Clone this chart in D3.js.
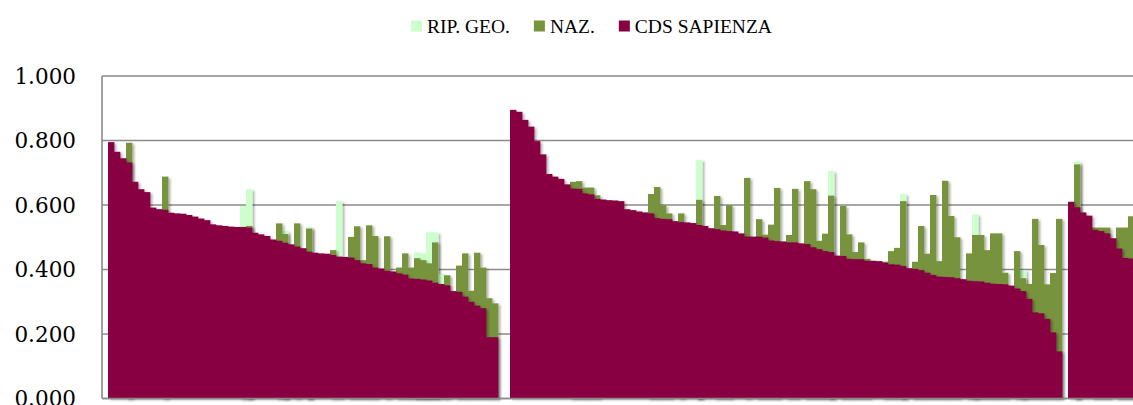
<!DOCTYPE html>
<html>
<head>
<meta charset="utf-8">
<title>CDS Sapienza</title>
<script src="https://cdn.jsdelivr.net/npm/d3@7"></script>
<style>
body {
	margin: 0;
	background-color: white;
}
.grid line {
	stroke: #8a8a8a;
	stroke-width: 1.6;
}
.axis-line {
	stroke: #8a8a8a;
	stroke-width: 1.6;
}
.tick-label {
	font-family: "DejaVu Serif";
	font-size: 21.5px;
	fill: #000;
}
.legend text {
	font-family: "Liberation Serif";
	font-size: 19.5px;
	fill: #000;
}
</style>
</head>
<body>
<div id="chart"></div>
<script>
// series order = drawing order (back to front)
const seriesNames = ["RIP. GEO.", "NAZ.", "CDS SAPIENZA"];
const seriesColors = ["#ccffcc", "#77933c", "#880042"];
const yTicks = [0, 0.2, 0.4, 0.6, 0.8, 1.0];

// blank categories in front of each group
const gapBefore = [1, 2, 1];

// group A
const cdsA = [0.795,0.765,0.745,0.732,0.672,0.649,0.640,0.592,0.587,0.585,
	0.576,0.574,0.573,0.569,0.564,0.558,0.553,0.540,0.537,0.535,
	0.533,0.532,0.532,0.530,0.514,0.509,0.504,0.493,0.489,0.483,
	0.478,0.471,0.466,0.455,0.452,0.450,0.449,0.445,0.440,0.439,
	0.437,0.429,0.419,0.417,0.406,0.403,0.396,0.394,0.388,0.384,
	0.372,0.371,0.369,0.366,0.359,0.355,0.351,0.333,0.331,0.316,
	0.300,0.288,0.280,0.190,0.190];
const nazA = [null,null,null,0.793,null,null,null,null,null,0.688,
	null,null,null,null,null,null,null,null,null,null,
	null,null,null,0.535,null,null,null,null,0.543,0.510,
	null,0.543,null,0.527,null,null,null,0.460,null,null,
	0.501,0.534,0.429,0.537,0.504,null,0.503,null,0.406,0.450,
	0.406,0.435,0.429,0.419,0.484,null,0.382,null,0.412,0.450,
	0.334,0.452,0.406,0.311,0.295];
const ripA = [null,null,null,null,null,null,null,null,null,null,
	null,null,null,null,null,null,null,null,null,null,
	null,null,0.597,0.649,null,null,null,null,null,0.520,
	null,null,null,0.531,null,null,null,null,0.612,null,
	null,null,null,null,null,null,null,null,null,null,
	null,0.453,0.450,0.515,0.515,0.386,null,null,null,null,
	null,null,null,null,null];

// group B
const cdsB = [0.895,0.889,0.864,0.843,0.798,0.757,0.696,0.688,0.681,0.664,
	0.651,0.650,0.636,0.633,0.619,0.617,0.615,0.614,0.612,0.587,
	0.584,0.580,0.577,0.574,0.559,0.557,0.556,0.550,0.547,0.546,
	0.544,0.538,0.535,0.528,0.525,0.521,0.519,0.518,0.512,0.502,
	0.502,0.502,0.499,0.490,0.488,0.487,0.484,0.484,0.481,0.479,
	0.469,0.463,0.457,0.454,0.443,0.442,0.433,0.432,0.432,0.427,
	0.427,0.426,0.421,0.416,0.415,0.411,0.404,0.402,0.398,0.390,
	0.383,0.378,0.377,0.376,0.373,0.370,0.365,0.364,0.363,0.359,
	0.356,0.355,0.354,0.350,0.341,0.333,0.309,0.267,0.264,0.247,
	0.205,0.146];
const nazB = [null,null,null,null,null,null,null,null,null,null,
	0.672,0.674,0.654,0.654,0.630,null,null,null,null,null,
	null,null,null,0.634,0.656,0.599,0.574,null,0.574,null,
	null,0.616,null,null,0.628,0.538,0.599,null,null,0.684,
	null,0.556,0.508,0.539,0.653,null,0.507,0.650,null,0.674,
	0.649,0.489,0.511,0.629,null,0.597,0.509,0.454,0.484,0.433,
	null,null,0.424,0.457,0.467,0.612,null,0.424,0.535,0.449,
	0.631,0.426,0.675,0.566,0.500,null,0.450,0.507,0.507,0.460,
	0.512,0.512,0.390,null,0.457,0.373,0.355,0.557,0.476,0.354,
	0.389,0.557];
const ripB = [null,null,null,null,null,null,null,null,null,null,
	null,null,null,null,null,null,null,null,null,null,
	null,null,null,null,null,null,null,null,null,null,
	null,0.740,null,null,null,null,null,null,null,null,
	null,null,null,null,null,null,null,null,null,null,
	null,null,null,0.705,null,null,null,null,null,null,
	null,null,null,null,null,0.634,null,null,null,null,
	null,null,null,null,null,null,null,0.571,null,null,
	null,null,null,null,null,0.398,null,null,null,null,
	null,null];

// group C (cut by the right edge)
const cdsC = [0.610,0.593,0.577,0.567,0.523,0.519,0.512,0.497,0.465,0.436,0.434];
const nazC = [null,0.726,null,null,0.530,0.530,0.530,null,0.530,0.530,0.565];
const ripC = [null,0.735,null,null,null,null,null,null,null,null,null];

const groups = [
	{rip: ripA, naz: nazA, cds: cdsA},
	{rip: ripB, naz: nazB, cds: cdsB},
	{rip: ripC, naz: nazC, cds: cdsC},
];

(function() {
"use strict";
const width = 1133, height = 405;
const margin = {top: 76, left: 102, bottom: 6.5};
const step = 6;

// flatten groups into one category list with blanks
const rows = [];
groups.forEach((g, gi) => {
	for (let b = 0; b < gapBefore[gi]; b++)
		rows.push({rip: null, naz: null, cds: null});
	g.cds.forEach((v, i) => rows.push({rip: g.rip[i], naz: g.naz[i], cds: v}));
});
rows.forEach((r, i) => r.i = i);

const xScale = d3.scaleBand()
	.domain(rows.map(r => r.i))
	.range([margin.left, margin.left + rows.length * step])
	.padding(0);
const yScale = d3.scaleLinear([0, 1], [height - margin.bottom, margin.top]);

const svg = d3.select("#chart")
	.append("svg")
		.attr("width", width)
		.attr("height", height);

const defs = svg.append("defs");
defs.append("filter")
		.attr("id", "shadow")
		.attr("x", "-5%").attr("y", "-5%")
		.attr("width", "110%").attr("height", "110%")
	.append("feDropShadow")
		.attr("dx", 2)
		.attr("dy", 1.5)
		.attr("stdDeviation", 1.2)
		.attr("flood-color", "#000")
		.attr("flood-opacity", 0.3);

// gridlines
svg.append("g")
	.attr("class", "grid")
	.selectAll("line")
	.data(yTicks)
	.join("line")
		.attr("x1", margin.left)
		.attr("x2", width)
		.attr("y1", d => yScale(d))
		.attr("y2", d => yScale(d));

// bars, one layer per series
const keys = ["rip", "naz", "cds"];
keys.forEach((k, si) => {
	svg.append("g")
		.attr("filter", "url(#shadow)")
		.selectAll("rect")
		.data(rows.filter(r => r[k] !== null))
		.join("rect")
			.attr("x", r => xScale(r.i))
			.attr("width", xScale.bandwidth() + 0.4)
			.attr("y", r => yScale(r[k]))
			.attr("height", r => yScale(0) - yScale(r[k]))
			.attr("fill", seriesColors[si]);
});

// axes lines
svg.append("line")
	.attr("class", "axis-line")
	.attr("x1", margin.left).attr("x2", margin.left)
	.attr("y1", yScale(1)).attr("y2", yScale(0));
svg.append("line")
	.attr("class", "axis-line")
	.attr("x1", margin.left).attr("x2", width)
	.attr("y1", yScale(0)).attr("y2", yScale(0));

// tick labels
const fmt = d3.format(".3f");
svg.append("g")
	.selectAll("text")
	.data(yTicks)
	.join("text")
		.attr("class", "tick-label")
		.attr("x", margin.left - 26)
		.attr("y", d => yScale(d))
		.attr("dy", "0.36em")
		.attr("text-anchor", "end")
		.text(d => fmt(d));

// legend
const legend = svg.append("g").attr("class", "legend");
let lx = 411;
seriesNames.forEach((name, i) => {
	legend.append("rect")
		.attr("x", lx)
		.attr("y", 20.5)
		.attr("width", 11)
		.attr("height", 11)
		.attr("fill", seriesColors[i]);
	const t = legend.append("text")
		.attr("x", lx + 16)
		.attr("y", 32.5)
		.text(name);
	lx += 16 + t.node().getComputedTextLength() + 24;
});
})();
</script>
</body>
</html>
